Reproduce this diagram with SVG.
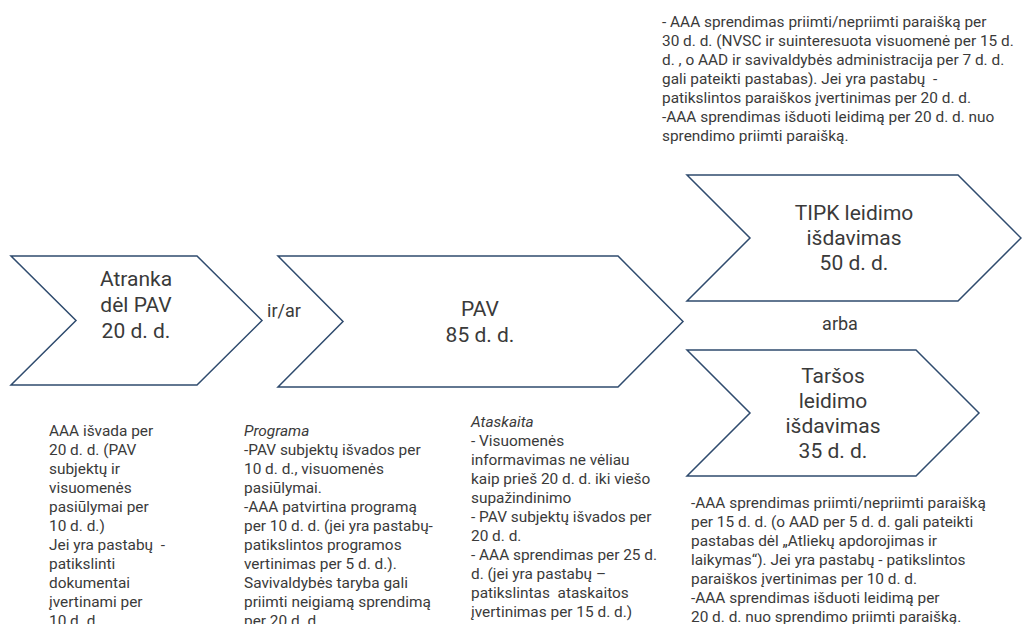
<svg xmlns="http://www.w3.org/2000/svg" width="1022" height="624" viewBox="0 0 1022 624">
<style>
  .chev { fill: #ffffff; stroke: #2f4b6e; stroke-width: 1.5; stroke-linejoin: miter; }
  text { font-family: Roboto, "Liberation Sans", sans-serif; font-weight: 400; fill: #3a3a3a; white-space: pre; }
  .big { font-size: 21px; text-anchor: middle; }
  .mid { font-size: 18px; }
  .note { font-size: 15.4px; }
  .it { font-style: italic; }
</style>
<rect x="0" y="0" width="1022" height="624" fill="#ffffff"/>

<g id="connectors">
  <text class="mid" x="267" y="317">ir/ar</text>
  <text class="mid" x="840" y="330" text-anchor="middle">arba</text>
</g>

<g id="node-atranka">
  <polygon class="chev" points="11,256 197,256 262,320.5 197,385 11,385 76,320.5"/>
  <text class="big" x="136" y="286">Atranka</text>
  <text class="big" x="136" y="312">dėl PAV</text>
  <text class="big" x="136" y="338">20 d. d.</text>
</g>

<g id="node-pav">
  <polygon class="chev" points="278,256 618,256 683,321.5 618,387 278,387 343,321.5"/>
  <text class="big" x="480" y="316">PAV</text>
  <text class="big" x="480" y="342">85 d. d.</text>
</g>

<g id="node-tipk">
  <polygon class="chev" points="687,175 958,175 1021,238 958,301 687,301 750,238"/>
  <text class="big" x="854" y="220">TIPK leidimo</text>
  <text class="big" x="854" y="245">išdavimas</text>
  <text class="big" x="854" y="270">50 d. d.</text>
</g>

<g id="node-tarsos">
  <polygon class="chev" points="687,350 916,350 979,413 916,476 687,476 750,413"/>
  <text class="big" x="833" y="383">Taršos</text>
  <text class="big" x="833" y="408">leidimo</text>
  <text class="big" x="833" y="433">išdavimas</text>
  <text class="big" x="833" y="458">35 d. d.</text>
</g>

<g id="note-tipk">
  <text class="note" x="662" y="27">- AAA sprendimas priimti/nepriimti paraišką per</text>
  <text class="note" x="662" y="46">30 d. d. (NVSC ir suinteresuota visuomenė per 15 d.</text>
  <text class="note" x="662" y="65">d. , o AAD ir savivaldybės administracija per 7 d. d.</text>
  <text class="note" x="662" y="84">gali pateikti pastabas). Jei yra pastabų  -</text>
  <text class="note" x="662" y="103">patikslintos paraiškos įvertinimas per 20 d. d.</text>
  <text class="note" x="662" y="122">-AAA sprendimas išduoti leidimą per 20 d. d. nuo</text>
  <text class="note" x="662" y="141">sprendimo priimti paraišką.</text>
</g>

<g id="note-atranka">
  <text class="note" x="49" y="436">AAA išvada per</text>
  <text class="note" x="49" y="455">20 d. d. (PAV</text>
  <text class="note" x="49" y="474">subjektų ir</text>
  <text class="note" x="49" y="493">visuomenės</text>
  <text class="note" x="49" y="512">pasiūlymai per</text>
  <text class="note" x="49" y="531">10 d. d.)</text>
  <text class="note" x="49" y="550">Jei yra pastabų  -</text>
  <text class="note" x="49" y="569">patikslinti</text>
  <text class="note" x="49" y="588">dokumentai</text>
  <text class="note" x="49" y="607">įvertinami per</text>
  <text class="note" x="49" y="626">10 d. d.</text>
</g>

<g id="note-programa">
  <text class="note it" x="244" y="436">Programa</text>
  <text class="note" x="244" y="455">-PAV subjektų išvados per</text>
  <text class="note" x="244" y="474">10 d. d., visuomenės</text>
  <text class="note" x="244" y="493">pasiūlymai.</text>
  <text class="note" x="244" y="512">-AAA patvirtina programą</text>
  <text class="note" x="244" y="531">per 10 d. d. (jei yra pastabų-</text>
  <text class="note" x="244" y="550">patikslintos programos</text>
  <text class="note" x="244" y="569">vertinimas per 5 d. d.).</text>
  <text class="note" x="244" y="588">Savivaldybės taryba gali</text>
  <text class="note" x="244" y="607">priimti neigiamą sprendimą</text>
  <text class="note" x="244" y="626">per 20 d. d.</text>
</g>

<g id="note-ataskaita">
  <text class="note it" x="471" y="427">Ataskaita</text>
  <text class="note" x="471" y="446">- Visuomenės</text>
  <text class="note" x="471" y="465">informavimas ne vėliau</text>
  <text class="note" x="471" y="484">kaip prieš 20 d. d. iki viešo</text>
  <text class="note" x="471" y="503">supažindinimo</text>
  <text class="note" x="471" y="522">- PAV subjektų išvados per</text>
  <text class="note" x="471" y="541">20 d. d.</text>
  <text class="note" x="471" y="560">- AAA sprendimas per 25 d.</text>
  <text class="note" x="471" y="579">d. (jei yra pastabų –</text>
  <text class="note" x="471" y="598">patikslintas  ataskaitos</text>
  <text class="note" x="471" y="617">įvertinimas per 15 d. d.)</text>
</g>

<g id="note-tarsos">
  <text class="note" x="691" y="508">-AAA sprendimas priimti/nepriimti paraišką</text>
  <text class="note" x="691" y="527">per 15 d. d. (o AAD per 5 d. d. gali pateikti</text>
  <text class="note" x="691" y="546">pastabas dėl „Atliekų apdorojimas ir</text>
  <text class="note" x="691" y="565">laikymas“). Jei yra pastabų - patikslintos</text>
  <text class="note" x="691" y="584">paraiškos įvertinimas per 10 d. d.</text>
  <text class="note" x="691" y="603">-AAA sprendimas išduoti leidimą per</text>
  <text class="note" x="691" y="622">20 d. d. nuo sprendimo priimti paraišką.</text>
</g>
</svg>
